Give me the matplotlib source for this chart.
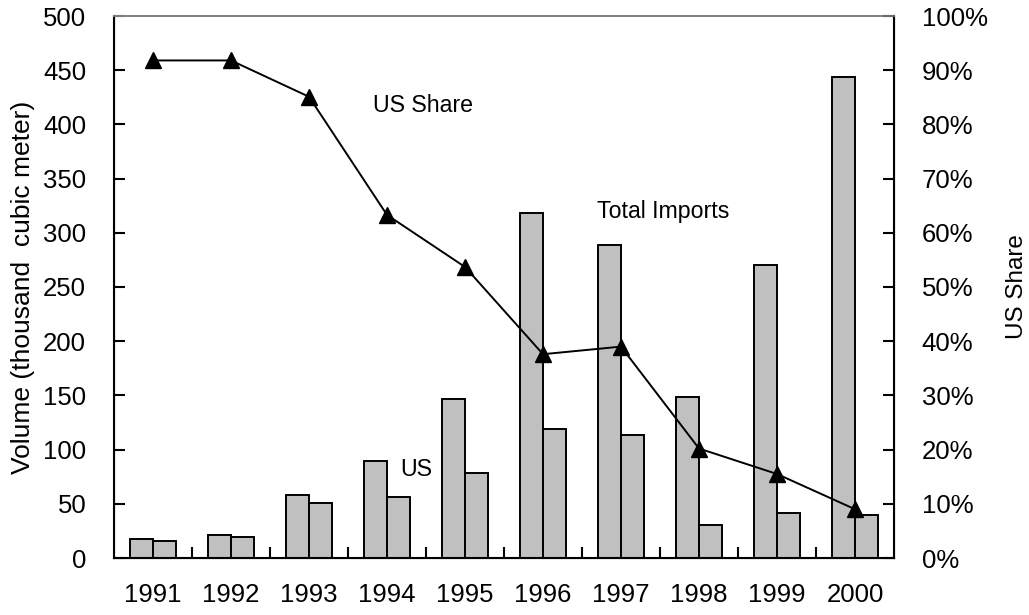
import matplotlib.pyplot as plt
from matplotlib.ticker import PercentFormatter, FixedLocator
import numpy as np

plt.rcParams['font.family'] = ['Liberation Sans', 'DejaVu Sans']

years = ['1991', '1992', '1993', '1994', '1995', '1996', '1997', '1998', '1999', '2000']
total_imports = [17.2, 20.9, 57.8, 89.2, 146.4, 318, 288.5, 148.2, 270, 443.4]
us_imports = [15.4, 19.1, 50.4, 56, 78.1, 118.7, 113.2, 30.2, 41.2, 39.4]
us_share = [0.918, 0.918, 0.851, 0.633, 0.537, 0.376, 0.390, 0.202, 0.155, 0.090]

x = np.arange(len(years))
w = 0.29
bar_color = '#c0c0c0'

fig = plt.figure(figsize=(10.29, 6.15), dpi=100)
ax = fig.add_axes([114/1029, 1 - 558/615, 780/1029, 542/615])

ax.bar(x - w/2, total_imports, w, color=bar_color, edgecolor='black', linewidth=1.4)
ax.bar(x + w/2, us_imports, w, color=bar_color, edgecolor='black', linewidth=1.4)

ax.set_xlim(-0.5, len(years) - 0.5)
ax.set_ylim(0, 500)
ax.set_yticks(range(0, 501, 50))
ax.set_xticks(x)
ax.set_xticklabels(years)
ax.xaxis.set_minor_locator(FixedLocator(np.arange(0.5, len(years) - 1, 1)))
ax.tick_params(axis='x', which='major', length=0, pad=18, labelsize=18.5)
ax.tick_params(axis='x', which='minor', direction='in', length=8, width=1.5)
ax.tick_params(axis='y', direction='in', length=8, width=1.5, pad=20, labelsize=18.5)
ax.set_ylabel('Volume (thousand  cubic meter)', fontsize=19, labelpad=6)

for s in ['left', 'bottom']:
    ax.spines[s].set_linewidth(1.5)
ax.spines['top'].set_color('#808080')
ax.spines['top'].set_linewidth(1.2)

ax2 = ax.twinx()
ax2.plot(x, us_share, color='black', linewidth=1.4, marker='^', markersize=12)
ax2.set_ylim(0, 1)
ax2.set_yticks(np.arange(0, 1.01, 0.1))
ax2.yaxis.set_major_formatter(PercentFormatter(1.0, decimals=0))
ax2.tick_params(axis='y', direction='in', length=8, width=1.5, pad=20, labelsize=18.5)
ax2.set_ylabel('US Share', fontsize=17.5)
ax2.yaxis.set_label_coords(1.144, 0.5)
ax2.spines['right'].set_linewidth(1.5)
ax2.spines['top'].set_color('#808080')
ax2.spines['top'].set_linewidth(1.2)

ax.text(2.82, 417, 'US Share', fontsize=16.7, va='center', ha='left')
ax.text(5.69, 320, 'Total Imports', fontsize=16.7, va='center', ha='left')
ax.text(3.17, 82, 'US', fontsize=16.7, va='center', ha='left')

fig.savefig('out.png', dpi=100)
